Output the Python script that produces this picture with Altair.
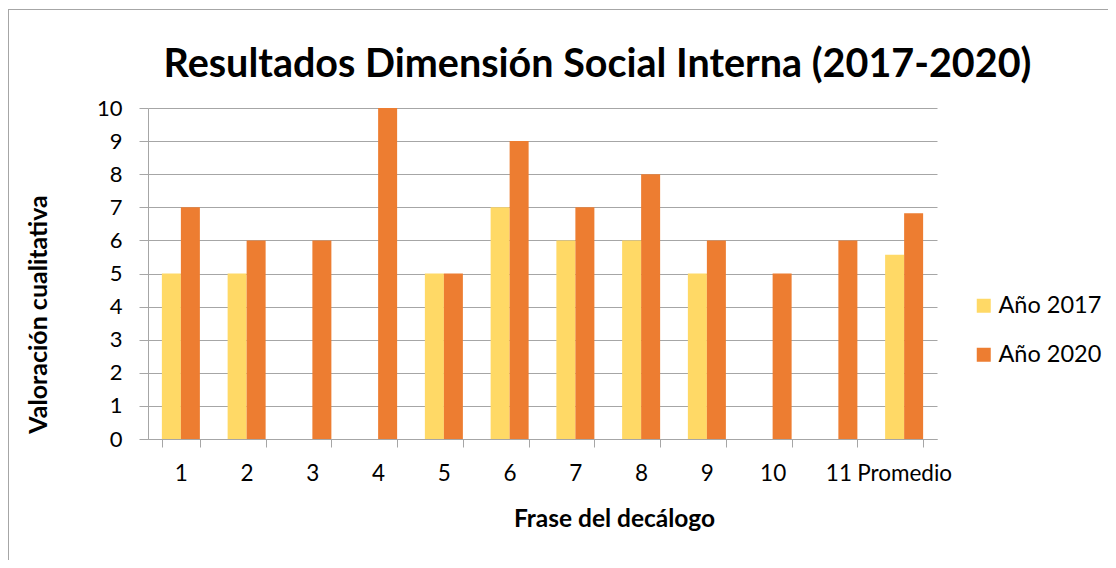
import altair as alt
import pandas as pd

categories = ["1", "2", "3", "4", "5", "6", "7", "8", "9", "10", "11", "Promedio"]
series_names = ["Año 2017", "Año 2020"]
values_2017 = [5, 5, 0, 0, 5, 7, 6, 6, 5, 0, 0, 5.57]
values_2020 = [7, 6, 6, 10, 5, 9, 7, 8, 6, 5, 6, 6.82]
colors = ["#FFD966", "#ED7D31"]
title_text = "Resultados Dimensión Social Interna (2017-2020)"

rows = []
for c, v in zip(categories, values_2017):
    rows.append({"cat": c, "serie": series_names[0], "val": v})
for c, v in zip(categories, values_2020):
    rows.append({"cat": c, "serie": series_names[1], "val": v})
df = pd.DataFrame(rows)

W, H = 789, 331
FONT = "Lato"

bars = alt.Chart(df).mark_bar().encode(
    x=alt.X("cat:N", sort=categories,
            scale=alt.Scale(paddingInner=0.422, paddingOuter=0.211),
            axis=alt.Axis(title="Frase del decálogo", labelAngle=0, labelFontSize=22.5,
                          labelFont=FONT, labelColor="#000000", labelPadding=15,
                          tickBand="extent", tickSize=8, tickColor="#A6A6A6",
                          domainColor="#A6A6A6", titleFont=FONT, titleFontSize=24.5,
                          titleFontWeight="bold", titleColor="#000000",
                          titleX=466, titleY=87, titleBaseline="alphabetic",
                          titleAnchor="middle")),
    xOffset=alt.XOffset("serie:N", sort=series_names),
    y=alt.Y("val:Q", scale=alt.Scale(domain=[0, 10]),
            axis=alt.Axis(title="Valoración cualitativa", values=list(range(11)),
                          labelFontSize=22, labelFont=FONT, labelColor="#000000",
                          labelPadding=17, tickSize=9, tickColor="#A6A6A6",
                          domainColor="#A6A6A6", gridColor="#A6A6A6",
                          titleFont=FONT, titleFontSize=25, titleFontWeight="bold",
                          titleColor="#000000", titleX=-110, titleY=206,
                          titleBaseline="middle", titleAnchor="middle")),
    color=alt.Color("serie:N", sort=series_names,
                    scale=alt.Scale(domain=series_names, range=colors),
                    legend=alt.Legend(title=None, orient="none", legendX=824, legendY=186,
                                      symbolType="square", symbolSize=196,
                                      symbolStrokeWidth=0, labelFontSize=23.5,
                                      labelFont=FONT, labelColor="#000000",
                                      rowPadding=24, labelOffset=3)),
)

title_df = pd.DataFrame({"t": [title_text]})
title = alt.Chart(title_df).mark_text(
    font=FONT, fontSize=39.5, fontWeight="bold", color="#000000",
    align="center", baseline="alphabetic").encode(
    text="t:N", x=alt.value(597.5 - 148), y=alt.value(77 - 108))

border_top = alt.Chart(title_df).mark_rule(color="#A6A6A6", strokeWidth=1).encode(
    x=alt.value(-140), x2=alt.value(W + 171), y=alt.value(-98.5))
border_left = alt.Chart(title_df).mark_rule(color="#A6A6A6", strokeWidth=1).encode(
    x=alt.value(-139.5), y=alt.value(-99), y2=alt.value(H + 121))

chart = alt.layer(bars, title, border_top, border_left).properties(
    width=W, height=H,
    padding={"left": 140, "top": 100, "right": 171, "bottom": 121},
    autosize=alt.AutoSizeParams(type="none"),
).configure_view(stroke=None).configure_axis(gridWidth=1)

chart.save("out.html", embed_options={"renderer": "svg", "actions": False})
